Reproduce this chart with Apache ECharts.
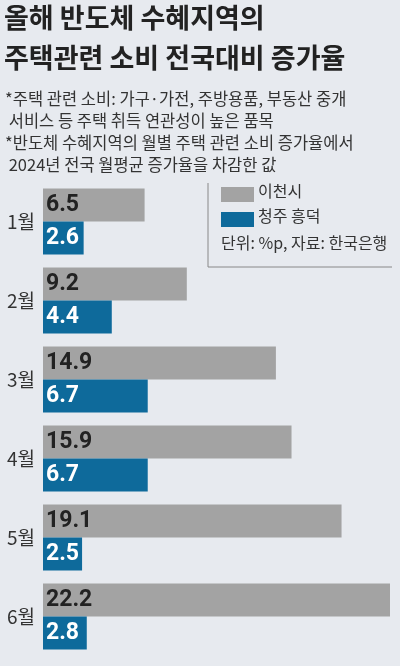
<!DOCTYPE html><html><head><meta charset="utf-8">
<script src="https://cdn.jsdelivr.net/npm/echarts@6/dist/echarts.min.js"></script>
<style>body{margin:0;background:#e7eaef}#c{width:400px;height:666px}</style></head><body><div id="c"></div>
<script>
const categories=['1월','2월','3월','4월','5월','6월'];
const icheon=[6.5,9.2,14.9,15.9,19.1,22.2];
const cheongju=[2.6,4.4,6.7,6.7,2.5,2.8];
const F='"Noto Sans CJK KR","Noto Sans",sans-serif';
const c=echarts.init(document.getElementById('c'));
const lbl=(col)=>({show:true,position:'insideLeft',offset:[-2,0],color:col,fontSize:23,fontWeight:'bold',fontFamily:'Roboto',formatter:p=>p.value.toFixed(1)});
c.setOption({
 backgroundColor:'#e7eaef',animation:false,
 graphic:[
  {type:'text',left:4,top:4,style:{text:'올해 반도체 수혜지역의',font:'bold 27px '+F,fill:'#222'}},
  {type:'text',left:4,top:44,style:{text:'주택관련 소비 전국대비 증가율',font:'bold 27px '+F,fill:'#222'}},
  {type:'text',left:5,top:88,style:{text:'*주택 관련 소비: 가구·가전, 주방용품, 부동산 중개\n 서비스 등 주택 취득 연관성이 높은 품목\n*반도체 수혜지역의 월별 주택 관련 소비 증가율에서\n 2024년 전국 월평균 증가율을 차감한 값',font:'16.5px '+F,fill:'#333',lineHeight:22}},
  {type:'line',shape:{x1:208,y1:183,x2:208,y2:267},style:{stroke:'#888',lineWidth:1}},
  {type:'line',shape:{x1:208,y1:267,x2:392,y2:267},style:{stroke:'#888',lineWidth:1}},
  {type:'rect',shape:{x:221,y:187,width:33,height:15},style:{fill:'#a3a3a3'}},
  {type:'text',left:258,top:183,style:{text:'이천시',font:'16px '+F,fill:'#333'}},
  {type:'rect',shape:{x:221,y:212,width:33,height:15},style:{fill:'#0e6a9b'}},
  {type:'text',left:258,top:208,style:{text:'청주 흥덕',font:'16px '+F,fill:'#333'}},
  {type:'text',left:221,top:235,style:{text:'단위: %p, 자료: 한국은행',font:'16px '+F,fill:'#333'}}
 ],
 grid:{left:43,right:10,top:182,bottom:10},
 xAxis:{type:'value',min:0,max:22.2,show:false},
 yAxis:{type:'category',data:categories,inverse:true,axisLine:{show:false},axisTick:{show:false},
  axisLabel:{color:'#333',fontSize:19,fontFamily:F,margin:8}},
 series:[
  {type:'bar',data:icheon,barWidth:33,barGap:'0%',itemStyle:{color:'#a3a3a3'},label:lbl('#222')},
  {type:'bar',data:cheongju,barWidth:33,itemStyle:{color:'#0e6a9b'},label:lbl('#fff')}
 ]
});
</script></body></html>
